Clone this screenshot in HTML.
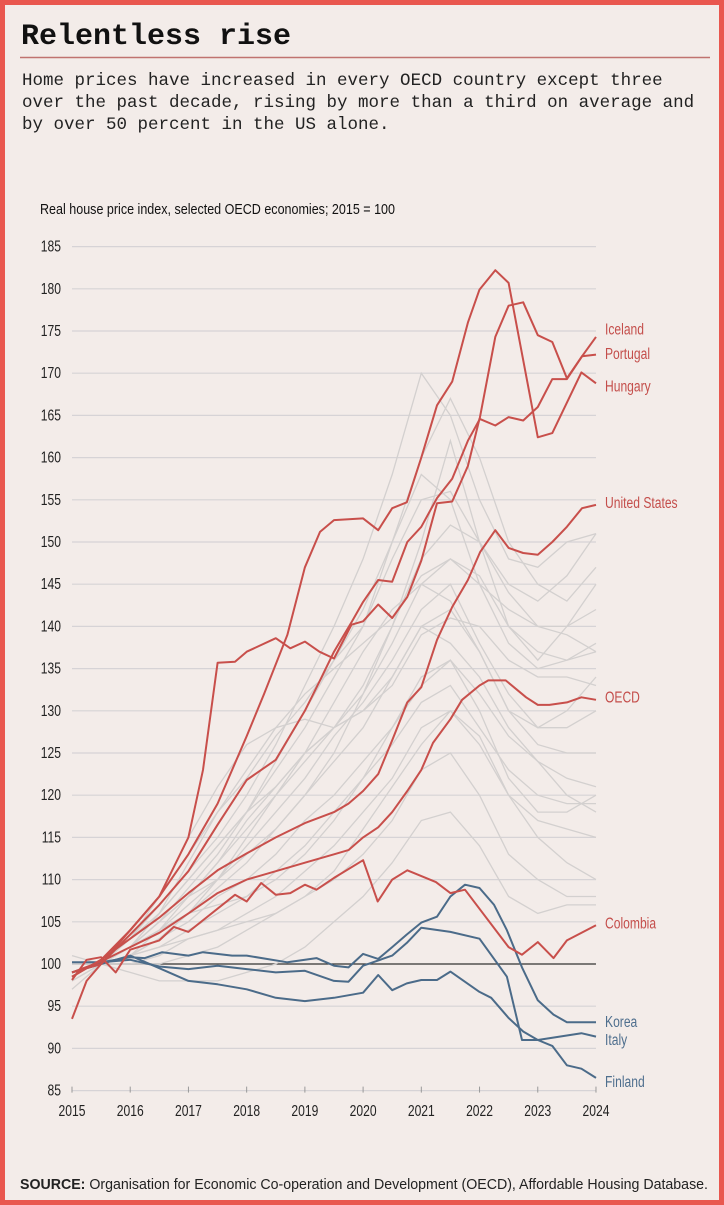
<!DOCTYPE html>
<html><head><meta charset="utf-8">
<style>
html,body{margin:0;padding:0;background:#f3ece9;}
body{width:724px;height:1205px;overflow:hidden;position:relative;}
svg{position:absolute;left:0;top:0;}
.nar{font-family:"Liberation Sans Narrow","Liberation Sans",sans-serif;}
.mono{font-family:"Liberation Mono",monospace;}
</style></head>
<body>
<svg id="chart" width="724" height="1205" viewBox="0 0 724 1205">
  <rect x="0" y="0" width="724" height="1205" fill="#f3ece9"/>
  <rect x="2.5" y="2.5" width="719" height="1200" fill="none" stroke="#e9574f" stroke-width="5"/>
  <text x="21" y="44" class="mono" font-size="30" font-weight="bold" fill="#111">Relentless rise</text>
  <line x1="20" y1="57.5" x2="710" y2="57.5" stroke="#c07370" stroke-width="1.5"/>
  <g class="mono" font-size="17.5" fill="#222">
    <text x="22" y="85">Home prices have increased in every OECD country except three</text>
    <text x="22" y="107">over the past decade, rising by more than a third on average and</text>
    <text x="22" y="129">by over 50 percent in the US alone.</text>
  </g>
  <text x="40" y="214" class="nar" font-size="15" fill="#111" textLength="355" lengthAdjust="spacingAndGlyphs">Real house price index, selected OECD economies; 2015 = 100</text>
  <g id="grid"></g>
  <g id="greys"></g>
  <g id="mains"></g>
  <g id="labels"></g>
  <text x="20" y="1189" class="nar" font-size="15" fill="#222" textLength="688" lengthAdjust="spacingAndGlyphs"><tspan font-weight="bold">SOURCE:</tspan> Organisation for Economic Co-operation and Development (OECD), Affordable Housing Database.</text>
</svg>
<script>
const yTicks = [85,90,95,100,105,110,115,120,125,130,135,140,145,150,155,160,165,170,175,180,185];
const xTicks = [2015,2016,2017,2018,2019,2020,2021,2022,2023,2024];

const greyT = [2015,2015.5,2016,2016.5,2017,2017.5,2018,2018.5,2019,2019.5,2020,2020.5,2021,2021.5,2022,2022.5,2023,2023.5,2024];
const grey1 = [99,100,103,107,111,115,120,126,133,140,148,158,170,165,155,148,147,150,151];
const grey2 = [98,100,102,106,110,114,118,123,128,134,140,150,160,167,160,150,145,143,147];
const grey3 = [100,100,104,108,113,118,122,127,131,136,140,148,155,156,150,144,140,140,142];
const grey4 = [99,100,103,106,110,114,118,121,125,128,132,138,145,148,146,140,137,136,137];
const grey5 = [100,100,102,105,108,112,116,120,124,128,133,140,148,152,150,145,143,146,151];
const grey6 = [100,100,102,104,107,110,114,118,122,127,131,136,142,145,138,132,128,128,130];
const grey7 = [98,100,101,103,106,109,112,116,120,124,128,134,140,142,137,130,126,125,125];
const grey8 = [100,100,101,103,105,108,110,113,117,120,124,128,133,136,132,127,124,122,121];
const grey9 = [100,100,101,102,104,106,108,111,114,118,122,126,131,133,128,123,120,119,119];
const grey10 = [99,100,100,101,103,104,106,108,111,114,118,122,128,130,126,120,117,116,115];
const grey11 = [100,100,102,106,112,118,123,128,132,135,138,141,146,148,145,142,140,139,137];
const grey12 = [101,100,100,100,101,102,104,106,108,111,116,121,126,130,127,120,115,112,110];
const grey13 = [100,100,99,98,98,98,99,100,102,105,108,112,117,118,114,108,106,107,107];
const grey14 = [100,100,103,108,115,121,126,128,129,128,130,134,140,138,134,128,124,120,118];
const grey15 = [99,100,102,105,109,113,118,124,130,136,142,150,158,155,145,138,135,136,138];
const grey16 = [100,100,101,104,108,112,117,121,125,128,130,133,139,141,140,136,134,134,133];
const grey17 = [100,100,102,104,106,107,108,110,113,117,122,128,134,136,130,122,118,118,120];
const grey18 = [97,100,101,102,103,104,105,106,108,110,113,117,123,125,120,113,110,108,108];
const grey19 = [100,100,102,105,108,110,113,116,120,125,132,140,150,162,150,140,136,140,145];
const grey20 = [100,100,101,103,106,110,115,120,125,131,137,142,145,143,137,130,128,130,134];

const hungaryT = [2015,2015.5,2016,2016.5,2017,2017.5,2018,2018.3,2018.7,2019,2019.26,2019.5,2020,2020.26,2020.5,2020.75,2021,2021.27,2021.53,2021.8,2022,2022.27,2022.5,2023,2023.25,2023.75,2024];
const hungaryV = [98.5,100.5,104,108,113,119,127,132,139,147,151.2,152.6,152.8,151.4,154,154.7,160,166.2,169,176,179.9,182.2,180.7,162.4,162.9,170.1,168.8];
const portugalT = [2015,2015.25,2015.5,2016,2016.5,2017,2017.25,2017.5,2017.8,2018,2018.5,2018.75,2019,2019.25,2019.5,2019.8,2020,2020.26,2020.5,2020.76,2021,2021.27,2021.53,2021.8,2022,2022.27,2022.5,2022.75,2023,2023.25,2023.5,2023.76,2024];
const portugalV = [93.5,98,100,104,108,115,123,135.7,135.8,137,138.6,137.4,138.2,137,136.2,140.2,140.6,142.6,141,143.5,147.8,154.6,154.8,159,164.6,163.8,164.8,164.4,166,169.3,169.3,172,172.2];
const icelandT = [2015,2015.5,2016,2016.5,2017,2017.5,2018,2018.5,2019,2019.26,2019.5,2019.8,2020,2020.26,2020.5,2020.76,2021,2021.27,2021.53,2021.8,2022,2022.27,2022.5,2022.75,2023,2023.25,2023.5,2023.76,2024];
const icelandV = [99,100,103.5,107,111,116.5,121.8,124.2,130,133.6,137,140.5,142.9,145.5,145.3,150,151.8,155.2,157.5,162,164.5,174.3,178,178.4,174.5,173.7,169.4,172,174.3];
const usT = [2015,2015.5,2016,2016.5,2017,2017.5,2018,2018.5,2019,2019.5,2019.75,2020,2020.26,2020.5,2020.76,2021,2021.27,2021.53,2021.8,2022.01,2022.27,2022.5,2022.75,2023,2023.25,2023.5,2023.76,2024];
const usV = [98.5,100.5,103,105.5,108.4,111.1,113.1,115,116.7,118,119,120.5,122.5,126.5,131,132.8,138.4,142.3,145.5,148.8,151.4,149.3,148.7,148.5,150,151.8,154,154.4];
const oecdT = [2015,2015.5,2016,2016.5,2017,2017.5,2018,2018.5,2019,2019.5,2019.75,2020,2020.26,2020.5,2020.76,2021,2021.2,2021.5,2021.7,2022,2022.15,2022.45,2022.8,2023,2023.2,2023.5,2023.75,2024];
const oecdV = [99,100.3,102,103.7,106,108.4,110,111,112,113,113.5,115,116.2,118,120.5,123,126.2,129,131.3,133,133.6,133.6,131.6,130.7,130.7,131,131.6,131.3];
const colombiaT = [2015,2015.25,2015.5,2015.75,2016,2016.5,2016.75,2017,2017.8,2018,2018.25,2018.5,2018.75,2019,2019.2,2019.5,2020,2020.25,2020.5,2020.76,2021.25,2021.5,2021.75,2022.5,2022.73,2023,2023.27,2023.5,2024];
const colombiaV = [98.1,100.5,100.8,99,101.7,102.8,104.4,103.8,108.2,107.4,109.6,108.2,108.4,109.4,108.8,110.2,112.3,107.4,110,111.1,109.7,108.4,108.8,102,101.1,102.6,100.7,102.8,104.6];
const koreaT = [2015,2015.5,2016,2016.25,2016.55,2017,2017.25,2017.75,2018,2018.7,2019.2,2019.5,2019.75,2020,2020.26,2020.5,2020.75,2021,2021.27,2021.5,2021.75,2022,2022.25,2022.47,2022.73,2023,2023.27,2023.5,2024];
const koreaV = [100.2,100.2,100.8,100.7,101.4,101,101.4,101,101,100.2,100.7,99.8,99.6,101.2,100.6,102,103.5,104.9,105.6,108,109.4,109,107,104,99.6,95.7,94,93.1,93.1];
const italyT = [2015,2015.5,2016,2016.5,2017,2017.5,2018,2018.5,2019,2019.5,2019.75,2020,2020.5,2020.75,2021,2021.5,2022,2022.47,2022.73,2023,2023.75,2024];
const italyV = [99,100.2,100.5,99.7,99.4,99.8,99.4,99,99.2,98,97.9,99.8,101,102.5,104.3,103.8,103,98.5,91,91,91.8,91.4];
const finlandT = [2015,2015.5,2016,2016.5,2017,2017.5,2018,2018.5,2019,2019.5,2020,2020.26,2020.5,2020.75,2021,2021.27,2021.5,2022,2022.2,2022.5,2022.75,2023,2023.25,2023.5,2023.75,2024];
const finlandV = [99,100,101,99.5,98,97.6,97,96,95.6,96,96.6,98.7,96.9,97.7,98.1,98.1,99.1,96.7,96,93.6,92,91,90.3,88,87.6,86.5];

const labelNames = ["Iceland","Portugal","Hungary","United States","OECD","Colombia","Korea","Italy","Finland"];
const labelValues = [175.2,172.3,168.4,154.6,131.6,104.8,93.1,91,86];

const RED = "#c84f4b", BLUE = "#4b6b89", GREY = "#d3d0cf";
const NS = "http://www.w3.org/2000/svg";
const xS = t => 72 + (t - 2015) * 58.22;
const yS = v => 964 - (v - 100) * 8.44;

function mk(tag, attrs, parent) {
  const e = document.createElementNS(NS, tag);
  for (const k in attrs) e.setAttribute(k, attrs[k]);
  parent.appendChild(e);
  return e;
}
const grid = document.getElementById('grid');
yTicks.forEach(v => {
  const ln = mk('line', {x1: xS(2015), x2: xS(2024), y1: yS(v), y2: yS(v), stroke: v === 100 ? '#333' : '#d6d3d6', 'stroke-width': v === 100 ? 1.3 : 1.2}, grid);
  
  
  const tx = mk('text', {x: 61, y: yS(v) + 5, 'text-anchor': 'end', 'font-size': 15.5, fill: '#222', class: 'nar sq'}, grid);
  tx.textContent = v;
  
  
});
xTicks.forEach(t => {
  const tk = mk('line', {x1: xS(t), x2: xS(t), y1: yS(85) - 4, y2: yS(85) + 2, stroke: '#999', 'stroke-width': 1}, grid);
  
  
  const tx = mk('text', {x: xS(t), y: 1116, 'text-anchor': 'middle', 'font-size': 15.5, fill: '#222', class: 'nar sq'}, grid);
  tx.textContent = t;
  
  
});

function path(ts, vs) {
  return ts.map((t, i) => (i ? 'L' : 'M') + xS(t).toFixed(1) + ',' + yS(vs[i]).toFixed(1)).join('');
}
const greys = document.getElementById('greys');
[grey1,grey2,grey3,grey4,grey5,grey6,grey7,grey8,grey9,grey10,grey11,grey12,grey13,grey14,grey15,grey16,grey17,grey18,grey19,grey20].forEach(vs => {
  const p = mk('path', {d: path(greyT, vs), fill: 'none', stroke: GREY, 'stroke-width': 1.3}, greys);
  
  
});
const mains = document.getElementById('mains');
const series = [
  ['finland-line', finlandT, finlandV, BLUE],
  ['italy-line', italyT, italyV, BLUE],
  ['korea-line', koreaT, koreaV, BLUE],
  ['colombia-line', colombiaT, colombiaV, RED],
  ['oecd-line', oecdT, oecdV, RED],
  ['united-states-line', usT, usV, RED],
  ['iceland-line', icelandT, icelandV, RED],
  ['portugal-line', portugalT, portugalV, RED],
  ['hungary-line', hungaryT, hungaryV, RED]
];
series.forEach(s => {
  const p = mk('path', {d: path(s[1], s[2]), fill: 'none', stroke: s[3], 'stroke-width': 2, 'stroke-linejoin': 'round'}, mains);
  
  
});
const labels = document.getElementById('labels');
labelNames.forEach((n, i) => {
  const blue = (n === 'Korea' || n === 'Italy' || n === 'Finland');
  const tx = mk('text', {x: 605, y: yS(labelValues[i]) + 5, 'font-size': 15.5, fill: blue ? '#4f6f8e' : '#c44e4b', class: 'nar sq'}, labels);
  tx.textContent = n;
  
  
});
document.querySelectorAll('text.sq').forEach(t => {
  const len = t.getComputedTextLength();
  if (len > 0) {
    t.setAttribute('textLength', (len * 0.78).toFixed(1));
    t.setAttribute('lengthAdjust', 'spacingAndGlyphs');
  }
});
</script>
</body></html>
